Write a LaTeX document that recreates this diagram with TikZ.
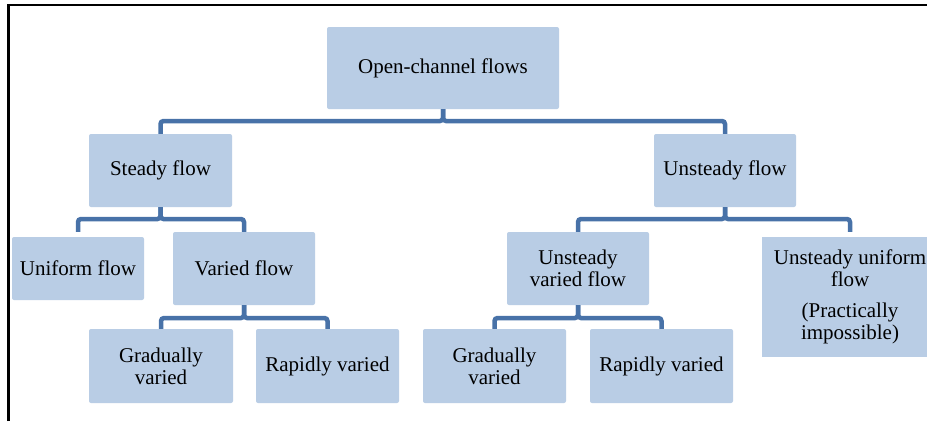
\documentclass[tikz,border=0pt]{standalone}
\usepackage{fontspec}
\setmainfont{Liberation Serif}
\definecolor{boxfill}{RGB}{185,205,229}
\definecolor{connc}{RGB}{72,114,168}
\tikzset{
  box/.style={fill=boxfill, rounded corners=2pt, inner sep=0pt, align=center,
    font=\fontsize{21}{22}\selectfont},
  conn/.style={draw=connc, line width=4.5pt, rounded corners=3pt},
}
\begin{document}
\begin{tikzpicture}[x=1pt,y=-1pt]
\useasboundingbox (0,0) rectangle (927,421);
\clip (0,0) rectangle (927,421);
\fill[white] (0,0) rectangle (927,421);
% frame
\draw[line width=2.5pt] (8.5,421) -- (8.5,5) -- (927,5);
% nodes
\node[box, minimum width=232, minimum height=82] (top) at (443,68) {Open-channel flows};
\node[box, minimum width=143, minimum height=73] (steady) at (160.5,170.5) {Steady flow};
\node[box, minimum width=142, minimum height=73] (unsteady) at (725,170.5) {Unsteady flow};
\node[box, minimum width=132, minimum height=63] (uniform) at (78,268.5) {Uniform flow};
\node[box, minimum width=142, minimum height=73] (varied) at (244,268.5) {Varied flow};
\node[box, minimum width=142, minimum height=73] (uvf) at (578,268.5) {Unsteady\\varied flow};
\node[box, minimum width=176, minimum height=120, rounded corners=0pt] (uu) at (850,297) {Unsteady uniform\\flow\\[9pt](Practically\\impossible)};
\node[box, minimum width=144, minimum height=74] (gv1) at (161,366) {Gradually\\varied};
\node[box, minimum width=143, minimum height=74] (rv1) at (327.5,366) {Rapidly varied};
\node[box, minimum width=143, minimum height=74] (gv2) at (494.5,366) {Gradually\\varied};
\node[box, minimum width=143, minimum height=74] (rv2) at (661.5,366) {Rapidly varied};
% connectors
\draw[conn] (top.south) -- (top.south |- 0,121) -| (steady.north);
\draw[conn] (top.south) -- (top.south |- 0,121) -| (unsteady.north);
\draw[conn] (steady.south) -- (steady.south |- 0,219) -| (uniform.north |- varied.north);
\draw[conn] (steady.south) -- (steady.south |- 0,219) -| (varied.north);
\draw[conn] (unsteady.south) -- (unsteady.south |- 0,219) -| (uvf.north);
\draw[conn] (unsteady.south) -- (unsteady.south |- 0,219) -| (uu.north |- uvf.north);
\draw[conn] (varied.south) -- (varied.south |- 0,318) -| (gv1.north);
\draw[conn] (varied.south) -- (varied.south |- 0,318) -| (rv1.north);
\draw[conn] (uvf.south) -- (uvf.south |- 0,318) -| (gv2.north);
\draw[conn] (uvf.south) -- (uvf.south |- 0,318) -| (rv2.north);
\end{tikzpicture}
\end{document}
